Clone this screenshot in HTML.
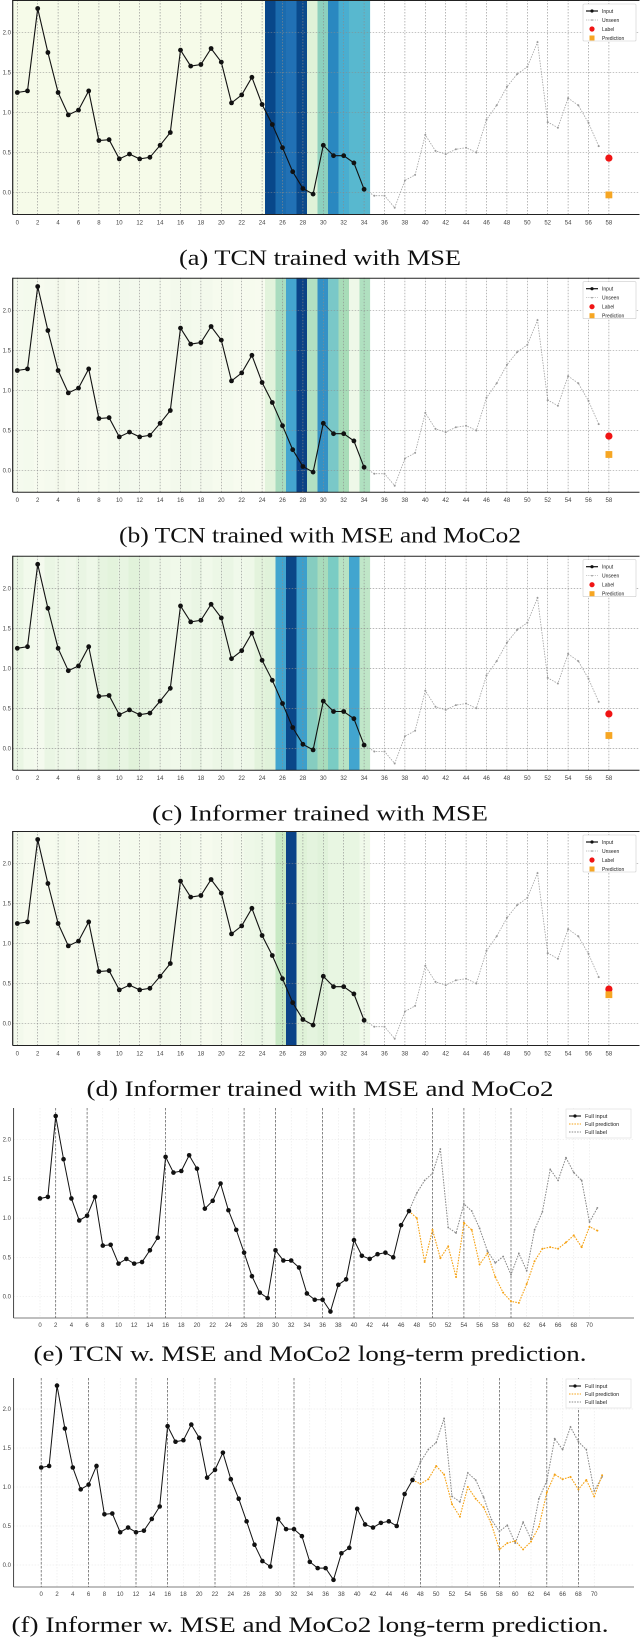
<!DOCTYPE html>
<html><head><meta charset="utf-8"><style>
html,body{margin:0;padding:0;background:#fff}
svg{display:block}
</style></head><body>
<svg id="fig" width="640" height="1642" viewBox="0 0 640 1642" xmlns="http://www.w3.org/2000/svg"></svg>
<script>
// ---------- data ----------
const inputVals = [1.25,1.27,2.30,1.75,1.25,0.97,1.03,1.27,0.65,0.66,0.42,0.48,0.42,0.44,0.59,0.75,1.78,1.58,1.60,1.80,1.63,1.12,1.22,1.44,1.10,0.85,0.56,0.26,0.05,-0.02,0.59,0.46,0.46,0.37,0.04];
const unseenVals = [-0.04,-0.04,-0.19,0.15,0.22,0.72,0.52,0.48,0.54,0.56,0.50,0.91,1.09,1.32,1.48,1.57,1.88,0.88,0.81,1.18,1.09,0.87,0.58];
const labelVal = 0.43;
const predVals = [-0.03,0.20,0.16,0.36];
const xTickLabels = [0,2,4,6,8,10,12,14,16,18,20,22,24,26,28,30,32,34,36,38,40,42,44,46,48,50,52,54,56,58];
const yTickLabels = [0.0,0.5,1.0,1.5,2.0];
// attention heat per index (colour per band), panels a-d
const heatA = ['#f6fbe9','#f6fbe9','#f6fbe9','#f6fbe9','#f6fbe9','#f6fbe9','#f6fbe9','#f6fbe9','#f6fbe9','#f6fbe9','#f6fbe9','#f6fbe9','#f6fbe9','#f6fbe9','#f6fbe9','#f6fbe9','#f6fbe9','#f6fbe9','#f6fbe9','#f6fbe9','#f6fbe9','#f6fbe9','#f6fbe9','#f6fbe9','#f6fbe9','#08478a','#1b6bae','#2171b5','#0a4a8c','#dff2d8','#8dd0be','#2a88c0','#4aaed0','#58b8cf','#58b8cf'];
const heatB = ['#f3f9ed','#f5faee','#f4faed','#f7fbef','#f5faee','#f4f9ec','#f7fbef','#f5faee','#f7fbef','#f6fbee','#f4faed','#f2f9ec','#f3f9ed','#f5faee','#f4faed','#f6fbee','#f3f9ec','#f2f9eb','#f4faed','#f3f9ec','#f6fbee','#f4faed','#f7fbef','#f6fbee','#f7fbef','#e2f3dc','#a9dcbf','#44a5cf','#0a4286','#b2e0c2','#3591c5','#7ac8c8','#a8dcb8','#eef8e8','#b0e0c0'];
const heatC = ['#eef8e8','#eaf6e4','#f2faec','#f4faee','#eaf6e4','#eef8e8','#f0f8ea','#e9f5e3','#eef8e8','#e6f4e0','#e3f3dc','#e8f5e2','#e1f2da','#e6f4e0','#ecf7e6','#eef8e8','#f0f9ea','#eef8e8','#eaf6e4','#f0f9ea','#ecf7e6','#eaf6e4','#f0f9ea','#eef8e8','#e3f3dc','#e0f2da','#42a5cf','#0a4788','#3d9fcc','#86cdc0','#a8dcbc','#7accc4','#b8e3c4','#42a5cf','#c0e6c8'];
const heatD = ['#f5faee','#f3f9ec','#f7fbef','#f5faee','#f6fbee','#f4faed','#f7fbef','#f5faee','#f6fbee','#f4faed','#f3f9ec','#f5faee','#f4faed','#f6fbee','#f4f9ec','#f2f9eb','#f4faed','#f2f9eb','#f4faed','#f6fbee','#f3f9ec','#f5faee','#f2f9eb','#eef8e8','#ecf7e6','#eef8e8','#c8e9c4','#0a4387','#dff2d8','#e4f4de','#e0f2da','#e8f6e2','#e8f6e2','#e8f6e2','#f0f9ea'];
// long-term
const ltInput = [1.25,1.27,2.30,1.75,1.25,0.97,1.03,1.27,0.65,0.66,0.42,0.48,0.42,0.44,0.59,0.75,1.78,1.58,1.60,1.80,1.63,1.12,1.22,1.44,1.10,0.85,0.56,0.26,0.05,-0.02,0.59,0.46,0.46,0.37,0.04,-0.04,-0.04,-0.19,0.15,0.22,0.72,0.52,0.48,0.54,0.56,0.50,0.91,1.09];
const ltLabel = [1.09,1.32,1.48,1.57,1.88,0.88,0.81,1.18,1.09,0.87,0.58,0.43,0.51,0.28,0.55,0.33,0.85,1.08,1.62,1.48,1.77,1.58,1.48,0.95,1.13];
const ltPredE = [1.09,1.00,0.44,0.85,0.49,0.64,0.25,0.94,0.85,0.41,0.55,0.25,0.05,-0.06,-0.08,0.16,0.45,0.61,0.63,0.61,0.69,0.78,0.63,0.89,0.84];
const ltPredF = [1.09,1.04,1.10,1.27,1.16,0.78,0.62,1.00,0.85,0.74,0.52,0.20,0.28,0.31,0.20,0.30,0.49,0.93,1.16,1.10,1.13,0.97,1.09,0.88,1.15];
const ltTicks = [0,2,4,6,8,10,12,14,16,18,20,22,24,26,28,30,32,34,36,38,40,42,44,46,48,50,52,54,56,58,60,62,64,66,68,70];
const ltMarkE = [2,6,16,26,30,36,40,50,54,60];
const ltMarkF = [0,6,12,16,22,32,48,58,64,68];

const NS='http://www.w3.org/2000/svg';
const svg=document.getElementById('fig');
function mk(tag,attrs,parent){const e=document.createElementNS(NS,tag);for(const k in attrs)e.setAttribute(k,attrs[k]);(parent||svg).appendChild(e);return e;}
function txt(s,attrs,parent){const e=mk('text',attrs,parent);e.textContent=s;return e;}
function pathFrom(xs,ys){return xs.map((x,i)=>(i?'L':'M')+x.toFixed(2)+' '+ys[i].toFixed(2)).join(' ');}

// ---------- attention panels ----------
const panels=[
 {T:0, y0:192.5, heat:heatA, pred:predVals[0], cap:'(a) TCN trained with MSE', capW:282, name:'panel-a'},
 {T:277.7, y0:470.5, heat:heatB, pred:predVals[1], cap:'(b) TCN trained with MSE and MoCo2', capW:402, name:'panel-b'},
 {T:555.7, y0:748.3, heat:heatC, pred:predVals[2], cap:'(c) Informer trained with MSE', capW:336, name:'panel-c'},
 {T:831, y0:1023.5, heat:heatD, pred:predVals[3], cap:'(d) Informer trained with MSE and MoCo2', capW:467, name:'panel-d'}
];
const L=12.7,R=639.5,SC=80;
panels.forEach(p=>{
  const g=mk('g',{});
  
  
  const B=p.T+214.5;
  const xs=i=>17.3+10.2*i;
  const ys=v=>p.y0-SC*v;
  const clipId='clip-'+p.name;
  const cp=mk('clipPath',{id:clipId},g);mk('rect',{x:L,y:p.T,width:R-L,height:B-p.T},cp);
  const hg=mk('g',{'clip-path':'url(#'+clipId+')'},g);
  
  
  p.heat.forEach((c,i)=>{
    const r=mk('rect',{x:2.5+10.5*i,y:p.T,width:10.6,height:B-p.T,fill:c},hg);
    
    
  });
  // grid
  xTickLabels.forEach(t=>mk('line',{x1:xs(t),x2:xs(t),y1:p.T,y2:B,stroke:'#8a8a8a','stroke-width':0.6,'stroke-dasharray':'1.5,1.5'},g));
  yTickLabels.forEach(t=>mk('line',{x1:L,x2:R,y1:ys(t),y2:ys(t),stroke:'#8a8a8a','stroke-width':0.6,'stroke-dasharray':'1.5,1.5'},g));
  // axes
  mk('line',{x1:L,x2:L,y1:p.T,y2:B,stroke:'#222','stroke-width':1.2},g);
  mk('line',{x1:L,x2:R,y1:B,y2:B,stroke:'#222','stroke-width':1},g);
  mk('line',{x1:L,x2:R,y1:p.T+0.5,y2:p.T+0.5,stroke:'#222','stroke-width':1},g);
  xTickLabels.forEach(t=>{const e=txt(String(t),{x:xs(t),y:B+10,'font-size':6,'text-anchor':'middle',fill:'#444','font-family':'Liberation Sans, sans-serif'},g);});
  yTickLabels.forEach(t=>{const e=txt(t.toFixed(1),{x:11,y:ys(t)+2,'font-size':6,'text-anchor':'end',fill:'#444','font-family':'Liberation Sans, sans-serif'},g);});
  // unseen
  const ux=[xs(inputVals.length-1)],uy=[ys(inputVals[inputVals.length-1])];
  unseenVals.forEach((v,k)=>{ux.push(xs(inputVals.length+k));uy.push(ys(v));});
  const ul=mk('path',{d:pathFrom(ux,uy),fill:'none',stroke:'#a0a0a0','stroke-width':0.8,'stroke-dasharray':'1.5,1.2'},g);
  
  unseenVals.forEach((v,k)=>{const c=mk('circle',{cx:xs(inputVals.length+k),cy:ys(v),r:1,fill:'#999'},g);});
  // input
  const il=mk('path',{d:pathFrom(inputVals.map((v,i)=>xs(i)),inputVals.map(ys)),fill:'none',stroke:'#111','stroke-width':1.1},g);
  
  inputVals.forEach((v,i)=>{const c=mk('circle',{cx:xs(i),cy:ys(v),r:2.4,fill:'#111'},g);});
  // label & prediction
  const lb=mk('circle',{cx:xs(58),cy:ys(labelVal),r:3.6,fill:'#f01414'},g);
  const pr=mk('rect',{x:xs(58)-3.4,y:ys(p.pred)-3.4,width:6.8,height:6.8,fill:'#f6a623'},g);
  // legend
  const lg=mk('g',{},g);
  mk('rect',{x:583,y:p.T+4,width:53,height:37,fill:'#fff',stroke:'#ccc','stroke-width':0.6,rx:1},lg);
  const ly=p.T+11, fs={'font-size':5,'font-family':'Liberation Sans, sans-serif',fill:'#222'};
  mk('line',{x1:586,x2:598,y1:ly,y2:ly,stroke:'#111','stroke-width':1.2},lg);mk('circle',{cx:592,cy:ly,r:1.6,fill:'#111'},lg);
  txt('Input',Object.assign({x:602,y:ly+1.8},fs),lg);
  mk('line',{x1:586,x2:598,y1:ly+9,y2:ly+9,stroke:'#aaa','stroke-width':0.7,'stroke-dasharray':'1.2,1'},lg);mk('circle',{cx:592,cy:ly+9,r:0.8,fill:'#999'},lg);
  txt('Unseen',Object.assign({x:602,y:ly+10.8},fs),lg);
  mk('circle',{cx:592,cy:ly+18,r:2.6,fill:'#f01414'},lg);
  txt('Label',Object.assign({x:602,y:ly+19.8},fs),lg);
  mk('rect',{x:589.5,y:ly+24.5,width:5,height:5,fill:'#f6a623'},lg);
  txt('Prediction',Object.assign({x:602,y:ly+28.8},fs),lg);
  const cap=txt(p.cap,{x:320,y:p.T+265,'font-size':22,'text-anchor':'middle',fill:'#111','font-family':'Liberation Serif, serif',textLength:p.capW,lengthAdjust:'spacingAndGlyphs'},g);
  
});

// ---------- long-term panels ----------
const lts=[
 {T:1108,B:1318,y0:1296.6,sc:78.5,x0:40,dx:7.85,pred:ltPredE,marks:ltMarkE,cap:'(e) TCN w. MSE and MoCo2 long-term prediction.',capW:553,capY:1361,name:'panel-e'},
 {T:1378,B:1587,y0:1565,sc:78,x0:41.2,dx:7.9,pred:ltPredF,marks:ltMarkF,cap:'(f) Informer w. MSE and MoCo2 long-term prediction.',capW:597,capY:1632,name:'panel-f'}
];
lts.forEach(p=>{
  const g=mk('g',{});
  
  
  const xs=i=>p.x0+p.dx*i, ys=v=>p.y0-p.sc*v;
  const l=13.6,r=634;
  ltTicks.forEach(t=>mk('line',{x1:xs(t),x2:xs(t),y1:p.T,y2:p.B,stroke:'#e4e4e4','stroke-width':0.5,'stroke-dasharray':'1.5,1.5'},g));
  yTickLabels.forEach(t=>mk('line',{x1:l,x2:r,y1:ys(t),y2:ys(t),stroke:'#e4e4e4','stroke-width':0.5,'stroke-dasharray':'1.5,1.5'},g));
  p.marks.forEach(t=>{const e=mk('line',{x1:xs(t),x2:xs(t),y1:p.T,y2:p.B,stroke:'#555','stroke-width':0.7,'stroke-dasharray':'2.5,1.5'},g);});
  mk('line',{x1:l,x2:l,y1:p.T,y2:p.B,stroke:'#333','stroke-width':0.9},g);
  mk('line',{x1:l,x2:r,y1:p.B,y2:p.B,stroke:'#555','stroke-width':0.8},g);
  ltTicks.forEach(t=>{const e=txt(String(t),{x:xs(t),y:p.B+9,'font-size':6,'text-anchor':'middle',fill:'#444','font-family':'Liberation Sans, sans-serif'},g);});
  yTickLabels.forEach(t=>{const e=txt(t.toFixed(1),{x:11,y:ys(t)+2,'font-size':6,'text-anchor':'end',fill:'#444','font-family':'Liberation Sans, sans-serif'},g);});
  const s=ltInput.length-1;
  const lab=mk('path',{d:pathFrom(ltLabel.map((v,k)=>xs(s+k)),ltLabel.map(ys)),fill:'none',stroke:'#888','stroke-width':1,'stroke-dasharray':'1.6,1.2'},g);
  
  ltLabel.forEach((v,k)=>{if(k){const c=mk('circle',{cx:xs(s+k),cy:ys(v),r:0.9,fill:'#888'},g);}});
  const pl=mk('path',{d:pathFrom(p.pred.map((v,k)=>xs(s+k)),p.pred.map(ys)),fill:'none',stroke:'#f5a214','stroke-width':1.1,'stroke-dasharray':'1.6,1.2'},g);
  
  p.pred.forEach((v,k)=>{if(k){const c=mk('circle',{cx:xs(s+k),cy:ys(v),r:1,fill:'#f5a214'},g);}});
  const il=mk('path',{d:pathFrom(ltInput.map((v,i)=>xs(i)),ltInput.map(ys)),fill:'none',stroke:'#111','stroke-width':1},g);
  
  ltInput.forEach((v,i)=>{const c=mk('circle',{cx:xs(i),cy:ys(v),r:2.3,fill:'#111'},g);});
  const lg=mk('g',{},g);
  mk('rect',{x:566,y:p.T+1,width:65,height:29,fill:'#fff',stroke:'#ddd','stroke-width':0.6},lg);
  const ly=p.T+8, fs={'font-size':5.5,'font-family':'Liberation Sans, sans-serif',fill:'#222'};
  mk('line',{x1:569,x2:581,y1:ly,y2:ly,stroke:'#111','stroke-width':1.1},lg);mk('circle',{cx:575,cy:ly,r:1.6,fill:'#111'},lg);
  txt('Full input',Object.assign({x:585,y:ly+2},fs),lg);
  mk('line',{x1:569,x2:581,y1:ly+8,y2:ly+8,stroke:'#f5a214','stroke-width':1,'stroke-dasharray':'1.5,1.2'},lg);
  txt('Full prediction',Object.assign({x:585,y:ly+10},fs),lg);
  mk('line',{x1:569,x2:581,y1:ly+16,y2:ly+16,stroke:'#888','stroke-width':1,'stroke-dasharray':'1.5,1.2'},lg);
  txt('Full label',Object.assign({x:585,y:ly+18},fs),lg);
  const cap=txt(p.cap,{x:310,y:p.capY,'font-size':22,'text-anchor':'middle',fill:'#111','font-family':'Liberation Serif, serif',textLength:p.capW,lengthAdjust:'spacingAndGlyphs'},g);
  
});
</script>
</body></html>
